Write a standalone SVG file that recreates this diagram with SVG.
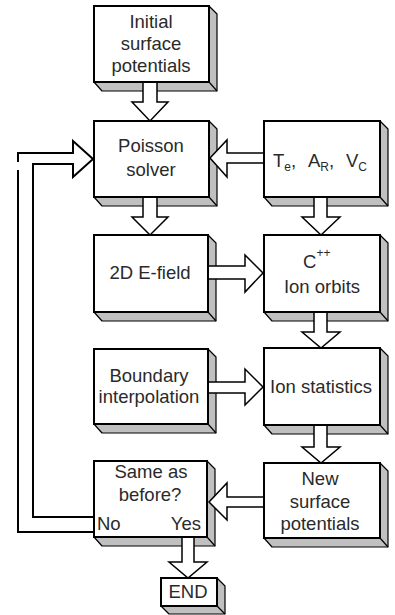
<svg xmlns="http://www.w3.org/2000/svg" width="395" height="615" viewBox="0 0 395 615">
<style>
.front{fill:#fff;stroke:#000;stroke-width:2}
.side{fill:#c0c0c0;stroke:#000;stroke-width:1.2;stroke-linejoin:round}
.edge{stroke:#000;stroke-width:1.2}
.arr{fill:#fff;stroke:#000;stroke-width:1.5;stroke-linejoin:miter}
.fb{fill:none;stroke:#000;stroke-width:2}
text{font-family:"Liberation Sans",Arial,sans-serif;font-size:18.5px;fill:#2a2a2a}
.c{text-anchor:middle}
.sub{font-size:12px}
</style>
<rect width="395" height="615" fill="#fff"/>
<g id="init">
<polygon class="side" points="209,6 217,14 217,91 102,91 94,82"/>
<line class="edge" x1="209" y1="82" x2="217" y2="91"/>
<rect class="front" x="94" y="6" width="115" height="76"/>
<text class="c" x="151" y="28">Initial</text>
<text class="c" x="151" y="50">surface</text>
<text class="c" x="151" y="72">potentials</text>
</g>
<g id="poisson">
<polygon class="side" points="209,121 217,129 217,206 102,206 94,197"/>
<line class="edge" x1="209" y1="197" x2="217" y2="206"/>
<rect class="front" x="94" y="121" width="115" height="76"/>
<text class="c" x="151" y="152">Poisson</text>
<text class="c" x="151" y="176">solver</text>
</g>
<g id="params">
<polygon class="side" points="380,121 388,129 388,206 272,206 264,197"/>
<line class="edge" x1="380" y1="197" x2="388" y2="206"/>
<rect class="front" x="264" y="121" width="116" height="76"/>
<text x="273" y="167">T<tspan class="sub" dy="4">e</tspan><tspan dy="-4">,</tspan><tspan x="308">A</tspan><tspan class="sub" dy="4">R</tspan><tspan dy="-4">,</tspan><tspan x="346">V</tspan><tspan class="sub" dy="4">C</tspan></text>
</g>
<g id="efield">
<polygon class="side" points="208,235 216,243 216,321 102,321 94,312"/>
<line class="edge" x1="208" y1="312" x2="216" y2="321"/>
<rect class="front" x="94" y="235" width="114" height="77"/>
<text class="c" x="150" y="279">2D E-field</text>
</g>
<g id="orbits">
<polygon class="side" points="380,235 388,243 388,321 272,321 264,312"/>
<line class="edge" x1="380" y1="312" x2="388" y2="321"/>
<rect class="front" x="264" y="235" width="116" height="77"/>
<text x="303" y="268">C<tspan class="sub" dy="-11">++</tspan></text>
<text class="c" x="322" y="293">Ion orbits</text>
</g>
<g id="boundary">
<polygon class="side" points="208,349 216,357 216,433 102,433 94,424"/>
<line class="edge" x1="208" y1="424" x2="216" y2="433"/>
<rect class="front" x="94" y="349" width="114" height="75"/>
<text class="c" x="149" y="382">Boundary</text>
<text class="c" x="149" y="403">interpolation</text>
</g>
<g id="ionstats">
<polygon class="side" points="380,348 388,356 388,434 272,434 264,425"/>
<line class="edge" x1="380" y1="425" x2="388" y2="434"/>
<rect class="front" x="264" y="348" width="116" height="77"/>
<text class="c" x="321" y="393">Ion statistics</text>
</g>
<g id="same">
<polygon class="side" points="207,461 215,469 215,546 102,546 94,537"/>
<line class="edge" x1="207" y1="537" x2="215" y2="546"/>
<rect class="front" x="94" y="461" width="113" height="76"/>
<text class="c" x="151" y="478">Same as</text>
<text class="c" x="150" y="501">before?</text>
<text x="97" y="530">No</text>
<text x="201" y="530" text-anchor="end">Yes</text>
</g>
<g id="newpot">
<polygon class="side" points="380,463 388,471 388,547 272,547 264,538"/>
<line class="edge" x1="380" y1="538" x2="388" y2="547"/>
<rect class="front" x="264" y="463" width="116" height="75"/>
<text class="c" x="320" y="485">New</text>
<text class="c" x="320" y="508">surface</text>
<text class="c" x="320" y="530">potentials</text>
</g>
<g id="end">
<polygon class="side" points="217,578 225,586 225,614 169,614 161,606"/>
<line class="edge" x1="217" y1="606" x2="225" y2="614"/>
<rect class="front" x="161" y="578" width="56" height="28"/>
<text class="c" x="188" y="598">END</text>
</g>
<g id="connectors">
<path class="arr" d="M143,83 V102 H132 L150,121 L168,102 H157 V83"/>
<path class="arr" d="M143,198 V217 H132 L150,235 L168,217 H157 V198"/>
<path class="arr" d="M314,198 V217 H302 L321,235 L340,217 H327 V198"/>
<path class="arr" d="M314,313 V332 H302 L321,348 L340,332 H327 V313"/>
<path class="arr" d="M314,426 V447 H302 L321,463 L340,447 H327 V426"/>
<path class="arr" d="M182,538 V562 H169 L188,578 L207,562 H194 V538"/>
<path class="arr" d="M263,153 H227 V140 L210,158 L227,177 V163 H263"/>
<path class="arr" d="M209,266 H245 V255 L263,273 L245,292 V279 H209"/>
<path class="arr" d="M209,382 H245 V369 L263,387 L245,405 V393 H209"/>
<path class="arr" d="M263,497 H227 V483 L209,502 L227,520 V507 H263"/>
<path class="fb" d="M94,532 H18 V170 M18,162 V153 H73 V141 L93,159 L73,177 V164 H33 V517 H94"/>
</g>
</svg>
